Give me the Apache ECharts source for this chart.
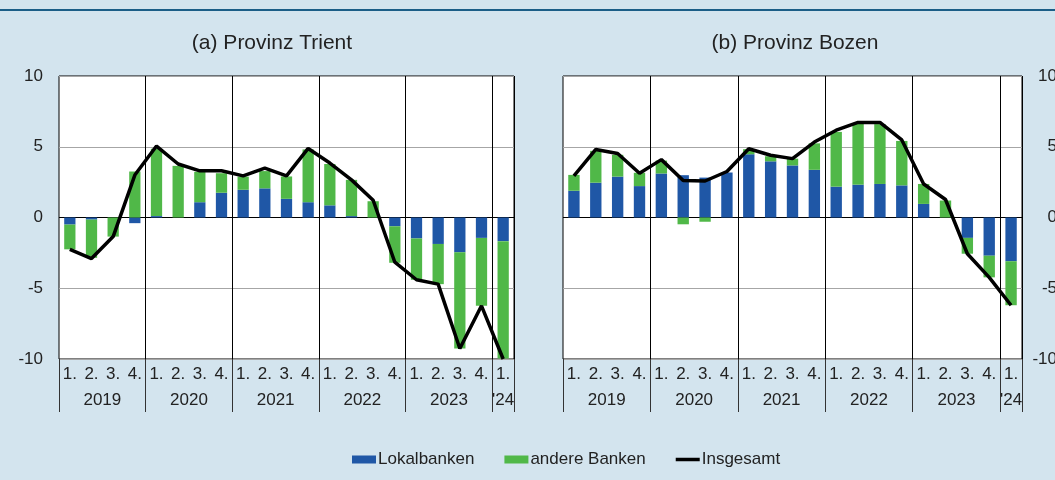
<!DOCTYPE html>
<html>
<head>
<meta charset="utf-8">
<script src="https://cdn.jsdelivr.net/npm/echarts@6/dist/echarts.min.js"></script>
<style>
html,body{margin:0;padding:0;background:#d3e4ee;}
#c{width:1055px;height:480px;}
</style>
</head>
<body>
<div id="c"></div>
<script>
// Categories: quarters 2019Q1 .. 2024Q1
const categories = ['2019Q1','2019Q2','2019Q3','2019Q4','2020Q1','2020Q2','2020Q3','2020Q4',
  '2021Q1','2021Q2','2021Q3','2021Q4','2022Q1','2022Q2','2022Q3','2022Q4',
  '2023Q1','2023Q2','2023Q3','2023Q4','2024Q1'];
const quarterLabels = ['1.','2.','3.','4.','1.','2.','3.','4.','1.','2.','3.','4.',
  '1.','2.','3.','4.','1.','2.','3.','4.','1.'];
const yearLabels = ['2019','2020','2021','2022','2023',"'24"];
const yearCenters = [2, 6, 10, 14, 18, 20.5];
const yearBounds = [0, 4, 8, 12, 16, 20, 21];

// (a) Provinz Trient
const trientLokal  = [-0.5,-0.15,0,-0.4, 0.1,0,1.08,1.75, 1.96,2.06,1.32,1.08, 0.86,0.1,0,-0.62, -1.48,-1.87,-2.46,-1.44, -1.67];
const trientAndere = [-1.75,-2.7,-1.35,3.25, 4.75,3.65,2.15,1.38, 0.93,1.22,1.58,3.73, 2.92,2.56,1.15,-2.58, -2.92,-2.84,-6.8,-4.8, -8.3];
const trientGesamt = [-2.25,-2.9,-1.35,3.0, 5.05,3.78,3.3,3.3, 2.94,3.49,2.94,4.88, 3.85,2.66,1.22,-3.16, -4.4,-4.71,-9.26,-6.24, -10.0];

// (b) Provinz Bozen
const bozenLokal  = [1.89,2.46,2.89,2.22, 3.11,2.99,2.82,3.18, 4.47,3.97,3.68,3.37, 2.18,2.32,2.37,2.27, 0.96,0,-1.44,-2.7, -3.09];
const bozenAndere = [1.12,2.25,1.54,0.94, 0.91,-0.48,-0.3,0, 0.36,0.36,0.48,1.87, 3.87,4.33,4.23,3.14, 1.41,1.2,-1.12,-1.53, -3.11];
const bozenGesamt = [2.94,4.81,4.52,3.13, 4.09,2.61,2.58,3.25, 4.86,4.4,4.16,5.33, 6.17,6.72,6.72,5.48, 2.37,1.27,-2.56,-4.23, -6.2];

const yTicks = {min:-10, max:10, interval:5};

const BLUE = '#1f57a6';
const GREEN = '#50b848';
const TXT = '#222';
const FONT = 'Liberation Sans, Arial, sans-serif';

const chart = echarts.init(document.getElementById('c'), null, {renderer:'canvas'});

function catAxis(gi){
  return {
    type:'category', gridIndex:gi, data:categories, position:'bottom',
    axisLine:{show:false, onZero:false}, axisTick:{show:false},
    axisLabel:{interval:0, margin:7, color:TXT, fontSize:17, fontFamily:FONT,
      formatter:(v,i)=>quarterLabels[categories.indexOf(v)]},
    splitLine:{show:true, interval:(i)=> i>0 && i%4===0, lineStyle:{color:'#000', width:1}}
  };
}
function yearAxis(gi){
  return {
    type:'value', gridIndex:gi, min:0, max:21, position:'bottom',
    axisLine:{show:false, onZero:false},
    axisTick:{show:true, customValues:yearBounds, length:53, inside:false, lineStyle:{color:'#333', width:1}},
    axisLabel:{show:true, customValues:yearCenters, margin:33, color:TXT, fontSize:17, fontFamily:FONT,
      formatter:(v)=> yearLabels[yearCenters.indexOf(v)]},
    splitLine:{show:false}
  };
}
function yAxis(gi, pos, showLabel){
  return {
    type:'value', gridIndex:gi, position:pos, min:yTicks.min, max:yTicks.max, interval:yTicks.interval,
    axisLine:{show:false}, axisTick:{show:false},
    axisLabel:{show:showLabel, color:TXT, fontSize:17, fontFamily:FONT,
      margin: pos==='left' ? 16 : 35, align:'right'},
    splitLine:{show:true, lineStyle:{color:['#a6a6a6','#a6a6a6','#000','#a6a6a6','#a6a6a6'], width:1}}
  };
}
function bars(name, data, color, gi){
  return {
    name, type:'bar', stack:'s'+gi, xAxisIndex:gi*2, yAxisIndex:gi, data,
    barWidth:'52%', itemStyle:{color}, emphasis:{disabled:true}
  };
}
function line(data, gi){
  return {
    name:'Insgesamt', type:'line', xAxisIndex:gi*2, yAxisIndex:gi, data,
    symbol:'none', lineStyle:{color:'#000', width:3.5}, itemStyle:{color:'#000'}, z:5
  };
}

chart.setOption({
  backgroundColor:'#d3e4ee',
  animation:false,
  textStyle:{fontFamily:FONT},
  title:[
    {text:'(a) Provinz Trient', left:272, top:33, textAlign:'center', padding:0,
      textStyle:{fontSize:21, fontWeight:'normal', color:TXT, fontFamily:FONT}},
    {text:'(b) Provinz Bozen', left:795, top:33, textAlign:'center', padding:0,
      textStyle:{fontSize:21, fontWeight:'normal', color:TXT, fontFamily:FONT}}
  ],
  graphic:[
    {type:'rect', shape:{x:0, y:9, width:1055, height:2}, style:{fill:'#1b5e87'}, silent:true}
  ],
  legend:{
    left:347, top:446, itemWidth:24, itemHeight:8, itemGap:30,
    textStyle:{fontSize:17, color:TXT, fontFamily:FONT, padding:[0,0,0,-3]},
    data:[{name:'Lokalbanken', icon:'rect'},{name:'andere Banken', icon:'rect'},
      {name:'Insgesamt', icon:'path://M0,0 L24,0 L24,3.5 L0,3.5 Z', itemStyle:{color:'#000'}}]
  },
  grid:[
    {left:59, top:76, width:455, height:283, show:true, backgroundColor:'#fff', borderColor:'#000', borderWidth:1,
      outerBoundsMode:'none', containLabel:false},
    {left:563, top:76, width:459, height:283, show:true, backgroundColor:'#fff', borderColor:'#000', borderWidth:1,
      outerBoundsMode:'none', containLabel:false}
  ],
  xAxis:[catAxis(0), yearAxis(0), catAxis(1), yearAxis(1)],
  yAxis:[yAxis(0,'left',true), yAxis(1,'right',true)],
  series:[
    bars('Lokalbanken', trientLokal, BLUE, 0),
    bars('andere Banken', trientAndere, GREEN, 0),
    line(trientGesamt, 0),
    bars('Lokalbanken', bozenLokal, BLUE, 1),
    bars('andere Banken', bozenAndere, GREEN, 1),
    line(bozenGesamt, 1)
  ]
});
</script>
</body>
</html>
